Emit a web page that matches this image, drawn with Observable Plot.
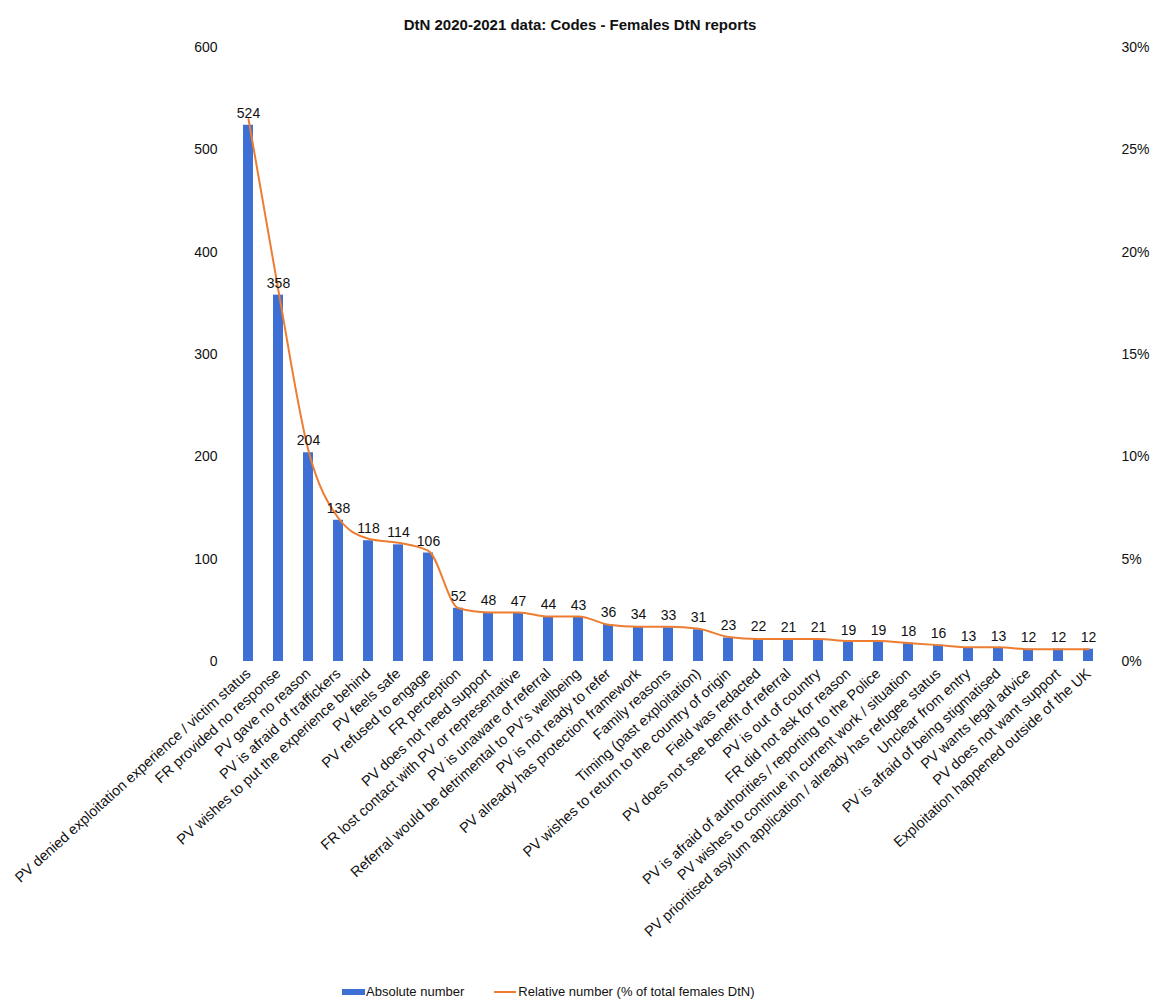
<!DOCTYPE html>
<html><head><meta charset="utf-8">
<script src="https://cdn.jsdelivr.net/npm/d3@7"></script>
<script src="https://cdn.jsdelivr.net/npm/@observablehq/plot@0.6"></script>
<style>
body{margin:0;background:#fff;font-family:"Liberation Sans",Arial,sans-serif;color:#111;}
#wrap{position:relative;width:1155px;height:1008px;}
#title{position:absolute;left:0;top:16px;width:1160px;text-align:center;font-weight:bold;font-size:15px;}
#chart{position:absolute;left:0;top:37px;}
#legend{position:absolute;left:342px;top:984px;font-size:13px;display:flex;align-items:center;}
.sw{display:inline-block;}
</style></head>
<body><div id="wrap">
<div id="title">DtN 2020-2021 data: Codes - Females DtN reports</div>
<div id="chart"></div>
<div id="legend">
<span class="sw" style="width:23px;height:6px;background:#3D6FD4;margin-right:1px"></span><span>Absolute number</span>
<span class="sw" style="width:22px;height:2px;background:#ED7D31;margin-left:30px;margin-right:2px"></span><span>Relative number (% of total females DtN)</span>
</div>
</div>
<script>
const categories = [
"PV denied exploitation experience / victim status",
"FR provided no response",
"PV gave no reason",
"PV is afraid of traffickers",
"PV wishes to put the experience behind",
"PV feels safe",
"PV refused to engage",
"FR perception",
"PV does not need support",
"FR lost contact with PV or representative",
"PV is unaware of referral",
"Referral would be detrimental to PV’s wellbeing",
"PV is not ready to refer",
"PV already has protection framework",
"Family reasons",
"Timing (past exploitation)",
"PV wishes to return to the country of origin",
"Field was redacted",
"PV does not see benefit of referral",
"PV is out of country",
"FR did not ask for reason",
"PV is afraid of authorities / reporting to the Police",
"PV wishes to continue in current work / situation",
"PV prioritised asylum application / already has refugee status",
"Unclear from entry",
"PV is afraid of being stigmatised",
"PV wants legal advice",
"PV does not want support",
"Exploitation happened outside of the UK"
];
const absolute = [524,358,204,138,118,114,106,52,48,47,44,43,36,34,33,31,23,22,21,21,19,19,18,16,13,13,12,12,12];
const relative = [26.5,18.1,10.3,7.0,6.0,5.8,5.4,2.6,2.4,2.4,2.2,2.2,1.8,1.7,1.7,1.6,1.2,1.1,1.1,1.1,1.0,1.0,0.9,0.8,0.7,0.7,0.6,0.6,0.6];
const leftTicks = [0,100,200,300,400,500,600];
const pctPerUnit = 30/600; // right axis: 600 on left ≙ 30%

const data = categories.map((c,i)=>({cat:c, abs:absolute[i], rel:relative[i]}));

const chart = Plot.plot({
  width:1155, height:930,
  marginLeft:229, marginRight:47, marginTop:10, marginBottom:306,
  style:{fontFamily:'"Liberation Sans",Arial,sans-serif', color:"#111", background:"#fff"},
  x:{type:"band", domain:categories, paddingInner:0.66, paddingOuter:0.33, label:null},
  y:{domain:[0,600], label:null},
  marks:[
    Plot.barY(data,{x:"cat", y:"abs", fill:"#3D6FD4"}),
    Plot.line(data,{x:"cat", y:d=>d.rel/pctPerUnit, stroke:"#ED7D31", strokeWidth:2, curve:"monotone-x"}),
    Plot.text(data,{x:"cat", y:"abs", text:d=>String(d.abs), dy:-12, fontSize:14, fill:"#111"}),
    Plot.axisY({ticks:leftTicks, tickSize:0, tickPadding:12, fontSize:14, label:null}),
    Plot.axisY({ticks:leftTicks, anchor:"right", tickSize:0, tickPadding:13, fontSize:14, label:null, tickFormat:d=>(d*pctPerUnit)+"%"}),
    Plot.axisX({tickRotate:-42, tickSize:0, tickPadding:10, fontSize:14.5, label:null})
  ]
});
document.getElementById("chart").appendChild(chart);
</script>
</body></html>
